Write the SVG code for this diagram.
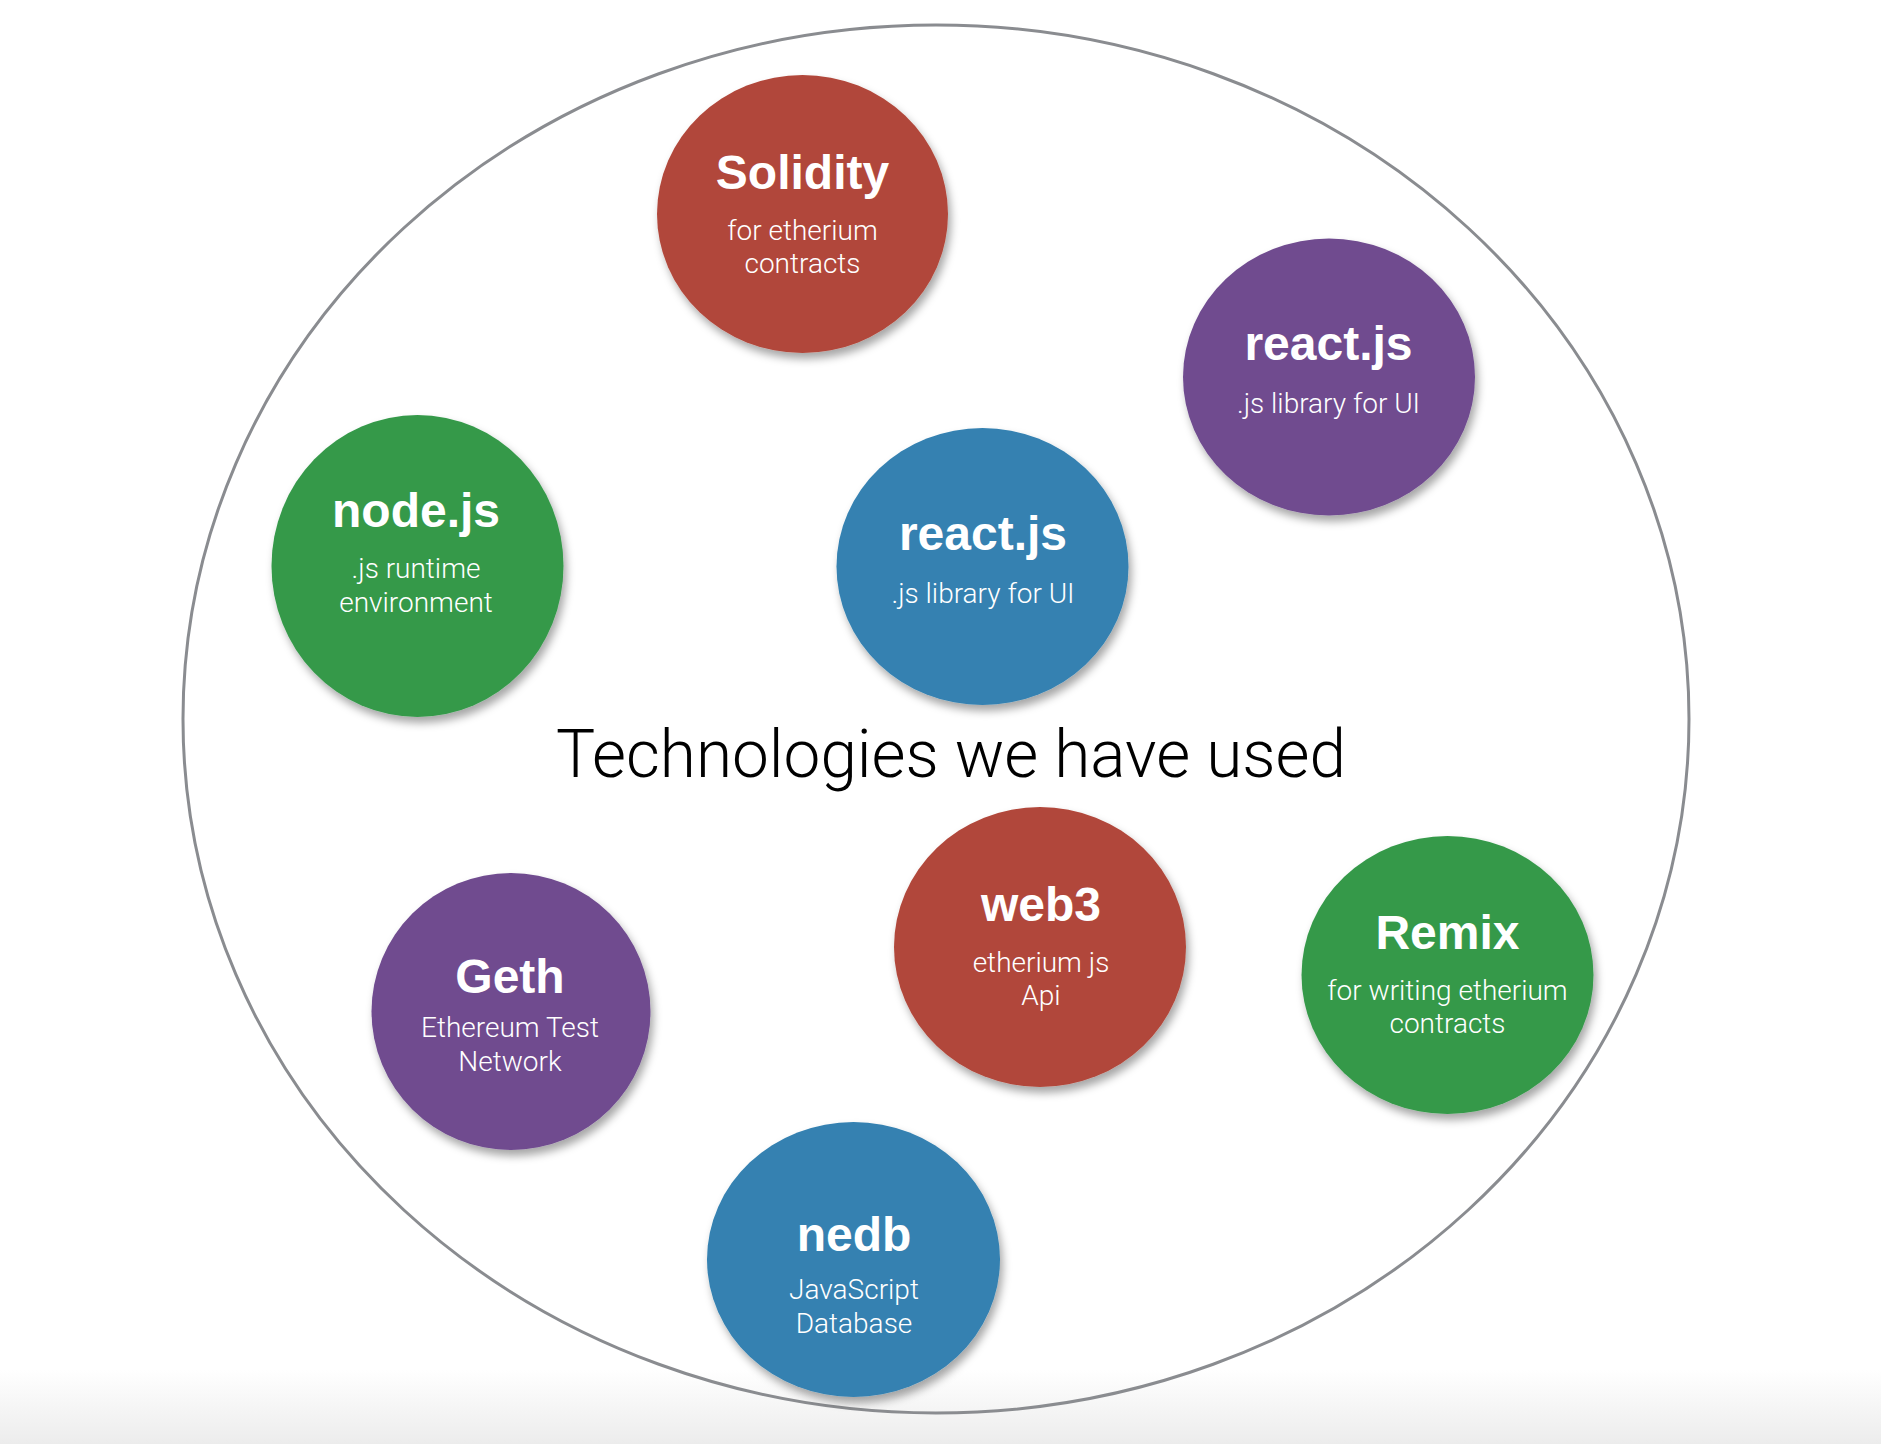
<svg xmlns="http://www.w3.org/2000/svg" width="1881" height="1444" viewBox="0 0 1881 1444">
  <defs>
    <filter id="shadow" x="-20%" y="-20%" width="140%" height="140%">
      <feDropShadow dx="3" dy="6" stdDeviation="4" flood-color="#000000" flood-opacity="0.35"/>
    </filter>
    <linearGradient id="floor" x1="0" y1="0" x2="0" y2="1">
      <stop offset="0" stop-color="#ffffff"/>
      <stop offset="1" stop-color="#ececec"/>
    </linearGradient>
  </defs>
  <style>
    .red { fill: #b1473a; }
    .purple { fill: #6f4b8f; }
    .green { fill: #35994a; }
    .blue { fill: #3481b1; }
    .disc { filter: url(#shadow); }
    .ttl { font-family: "Liberation Sans", Arial, sans-serif; font-weight: bold; font-size: 48px; fill: #ffffff; text-anchor: middle; }
    .sub { font-family: Roboto, "Liberation Sans", sans-serif; font-weight: 300; font-size: 28px; fill: #ffffff; text-anchor: middle; }
    .main { font-family: Roboto, "Liberation Sans", sans-serif; font-weight: 300; font-size: 66px; fill: #000000; text-anchor: middle; }
  </style>
  <rect x="0" y="0" width="1881" height="1444" fill="#ffffff"/>
  <rect x="0" y="1370" width="1881" height="74" fill="url(#floor)"/>

  <g id="frame">
    <ellipse cx="936" cy="719" rx="753" ry="694" fill="none" stroke="#8a8c90" stroke-width="3"/>
  </g>

  <g id="title">
    <text class="main" x="951" y="777" textLength="790" lengthAdjust="spacingAndGlyphs">Technologies we have used</text>
  </g>

  <g id="connectors"></g>

  <g id="solidity">
    <ellipse class="disc red" cx="802.5" cy="214" rx="145.5" ry="139"/>
    <text class="ttl" x="802.5" y="189">Solidity</text>
    <text class="sub" x="802.5" y="240">for etherium</text>
    <text class="sub" x="802.5" y="273">contracts</text>
  </g>

  <g id="reactjs-purple">
    <ellipse class="disc purple" cx="1329" cy="377" rx="146" ry="138.5"/>
    <text class="ttl" x="1328.5" y="360">react.js</text>
    <text class="sub" x="1328.5" y="413">.js library for UI</text>
  </g>

  <g id="nodejs">
    <ellipse class="disc green" cx="417.5" cy="566" rx="146" ry="151"/>
    <text class="ttl" x="416" y="527">node.js</text>
    <text class="sub" x="416" y="578">.js runtime</text>
    <text class="sub" x="416" y="612">environment</text>
  </g>

  <g id="reactjs-blue">
    <ellipse class="disc blue" cx="982.5" cy="566.5" rx="146" ry="138.5"/>
    <text class="ttl" x="983" y="550">react.js</text>
    <text class="sub" x="983" y="603">.js library for UI</text>
  </g>

  <g id="web3">
    <ellipse class="disc red" cx="1040" cy="947" rx="146" ry="140"/>
    <text class="ttl" x="1041" y="921">web3</text>
    <text class="sub" x="1041" y="972">etherium js</text>
    <text class="sub" x="1041" y="1005">Api</text>
  </g>

  <g id="remix">
    <ellipse class="disc green" cx="1447.5" cy="975" rx="146" ry="139"/>
    <text class="ttl" x="1447.5" y="949">Remix</text>
    <text class="sub" x="1447.5" y="1000">for writing etherium</text>
    <text class="sub" x="1447.5" y="1033">contracts</text>
  </g>

  <g id="geth">
    <ellipse class="disc purple" cx="511" cy="1011.5" rx="139.5" ry="138.5"/>
    <text class="ttl" x="510" y="993">Geth</text>
    <text class="sub" x="510" y="1037">Ethereum Test</text>
    <text class="sub" x="510" y="1071">Network</text>
  </g>

  <g id="nedb">
    <ellipse class="disc blue" cx="853.5" cy="1259.5" rx="146.5" ry="137.5"/>
    <text class="ttl" x="854" y="1251">nedb</text>
    <text class="sub" x="854" y="1299">JavaScript</text>
    <text class="sub" x="854" y="1333">Database</text>
  </g>
</svg>
